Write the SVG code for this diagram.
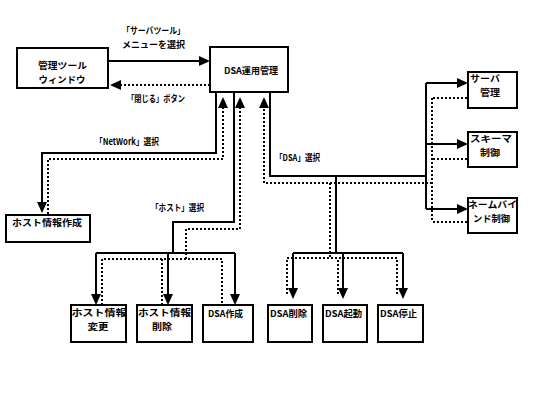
<svg xmlns="http://www.w3.org/2000/svg" width="540" height="420" viewBox="0 0 540 420">
<style>
.box{fill:#fff;stroke:#000;stroke-width:2}
.t{font-family:"Noto Sans CJK JP","Noto Sans",sans-serif;font-size:9px;font-weight:bold;fill:#000}
.m{text-anchor:middle}
.s{fill:none;stroke:#000;stroke-width:2}
.d{fill:none;stroke:#000;stroke-width:2;stroke-dasharray:2 2}
.a{marker-end:url(#ah)}
</style>
<defs>
<marker id="ah" viewBox="0 0 11 10" refX="0" refY="5" markerWidth="11" markerHeight="10" markerUnits="userSpaceOnUse" orient="auto">
<path d="M0,0 L11,5 L0,10 z" fill="#000"/>
</marker>
</defs>
<rect width="540" height="420" fill="#fff"/>
<g id="connectors">
<path class="s a" d="M108,61 H199"/>
<path class="d a" d="M210,85 H121"/>
<path class="s a" d="M216,92 V153 H42 V202"/>
<path class="d a" d="M48,214 V159 H223 V108"/>
<path class="s" d="M234,92 V222 H173 V253"/>
<path class="d a" d="M186,259 V229 H240 V108"/>
<path class="s" d="M96,253 H235"/>
<path class="s a" d="M96,253 V294"/>
<path class="s a" d="M168,253 V294"/>
<path class="s a" d="M235,253 V294"/>
<path class="d" d="M102,305 V259 H222 V305"/>
<path class="d" d="M162,305 V259"/>
<path class="s" d="M270,92 V176 H426"/>
<path class="s" d="M426,83 V209"/>
<path class="s a" d="M426,83 H457"/>
<path class="s a" d="M426,144 H457"/>
<path class="s a" d="M426,209 H457"/>
<path class="d a" d="M432,183 H264 V108"/>
<path class="d" d="M432,98 V222"/>
<path class="d" d="M467,98 H432"/>
<path class="d" d="M467,159 H432"/>
<path class="d" d="M467,222 H432"/>
<path class="s" d="M336,176 V253"/>
<path class="s" d="M293,253 H403"/>
<path class="s a" d="M293,253 V288"/>
<path class="s a" d="M343,253 V288"/>
<path class="s a" d="M403,253 V288"/>
<path class="d" d="M330,183 V258"/>
<path class="d" d="M287,294 V258 H397 V294"/>
<path class="d" d="M338,294 V258"/>
</g>
<g id="labels">
<text class="t" x="122" y="34" textLength="63" lengthAdjust="spacingAndGlyphs">「サーバツール」</text>
<text class="t" x="122" y="48" textLength="63" lengthAdjust="spacingAndGlyphs">メニューを選択</text>
<text class="t" x="127" y="102" textLength="58" lengthAdjust="spacingAndGlyphs">「閉じる」ボタン</text>
<text class="t" x="95" y="145" textLength="64" lengthAdjust="spacingAndGlyphs">「NetWork」選択</text>
<text class="t" x="151" y="211" textLength="53" lengthAdjust="spacingAndGlyphs">「ホスト」選択</text>
<text class="t" x="275" y="161" textLength="45" lengthAdjust="spacingAndGlyphs">「DSA」選択</text>
</g>
<g id="window">
<rect class="box" x="17" y="48" width="91" height="40"/>
<text class="t m" x="62.5" y="68.5" textLength="49" lengthAdjust="spacingAndGlyphs">管理ツール</text>
<text class="t m" x="62" y="82.5" textLength="47" lengthAdjust="spacingAndGlyphs">ウィンドウ</text>
</g>
<g id="dsa-admin">
<rect class="box" x="210" y="47" width="78" height="45"/>
<text class="t m" x="251" y="74" textLength="54" lengthAdjust="spacingAndGlyphs">DSA運用管理</text>
</g>
<g id="server-admin">
<rect class="box" x="468" y="72" width="49" height="36"/>
<text class="t" x="470" y="82" textLength="30" lengthAdjust="spacingAndGlyphs">サーバ</text>
<text class="t" x="480" y="96" textLength="20" lengthAdjust="spacingAndGlyphs">管理</text>
</g>
<g id="schema">
<rect class="box" x="468" y="132" width="49" height="35"/>
<text class="t" x="470" y="141.5" textLength="42" lengthAdjust="spacingAndGlyphs">スキーマ</text>
<text class="t" x="480" y="155.5" textLength="20" lengthAdjust="spacingAndGlyphs">制御</text>
</g>
<g id="namebind">
<rect class="box" x="468" y="198" width="49" height="35"/>
<text class="t" x="468" y="208" textLength="49" lengthAdjust="spacingAndGlyphs">ネームバイ</text>
<text class="t" x="473" y="222" textLength="37" lengthAdjust="spacingAndGlyphs">ンド制御</text>
</g>
<g id="host-create">
<rect class="box" x="6" y="215" width="84" height="27"/>
<text class="t" x="12" y="226" textLength="70" lengthAdjust="spacingAndGlyphs">ホスト情報作成</text>
</g>
<g id="host-change">
<rect class="box" x="71" y="305" width="55" height="37"/>
<text class="t" x="71.5" y="316" textLength="55" lengthAdjust="spacingAndGlyphs">ホスト情報</text>
<text class="t m" x="98" y="330" textLength="21" lengthAdjust="spacingAndGlyphs">変更</text>
</g>
<g id="host-delete">
<rect class="box" x="137" y="305" width="55" height="37"/>
<text class="t" x="138" y="316" textLength="53" lengthAdjust="spacingAndGlyphs">ホスト情報</text>
<text class="t m" x="162" y="330" textLength="20" lengthAdjust="spacingAndGlyphs">削除</text>
</g>
<g id="dsa-create">
<rect class="box" x="203" y="305" width="50" height="37"/>
<text class="t" x="208" y="317" textLength="35" lengthAdjust="spacingAndGlyphs">DSA作成</text>
</g>
<g id="dsa-delete">
<rect class="box" x="268" y="305" width="44" height="37"/>
<text class="t" x="270" y="317" textLength="37" lengthAdjust="spacingAndGlyphs">DSA削除</text>
</g>
<g id="dsa-start">
<rect class="box" x="323" y="305" width="44" height="37"/>
<text class="t" x="325" y="317" textLength="37" lengthAdjust="spacingAndGlyphs">DSA起動</text>
</g>
<g id="dsa-stop">
<rect class="box" x="378" y="305" width="45" height="37"/>
<text class="t" x="380" y="317" textLength="37" lengthAdjust="spacingAndGlyphs">DSA停止</text>
</g>
</svg>
